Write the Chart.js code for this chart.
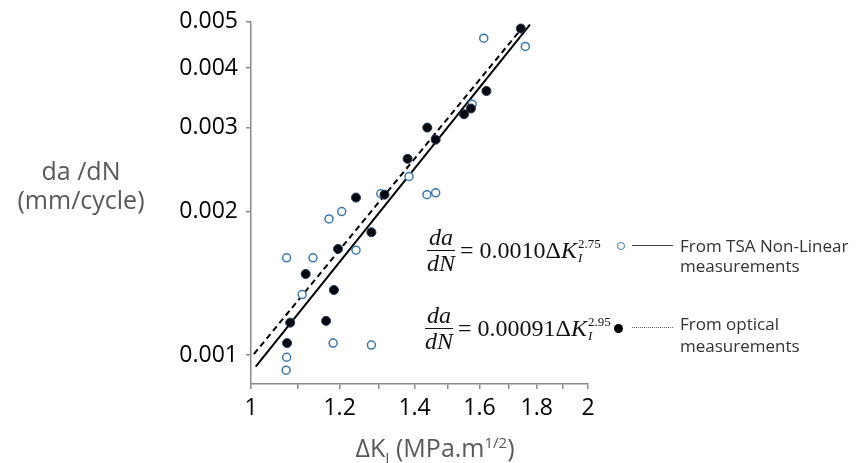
<!DOCTYPE html>
<html lang="en">
<head>
    <meta charset="UTF-8">
    <title>da/dN vs delta K</title>
    <script src="https://cdn.jsdelivr.net/npm/chart.js"></script>
    <style>
        body { margin: 0; background: #fff; }
        #wrap { position: relative; width: 860px; height: 463px; }
        #myChart { position: absolute; left: 0; top: 0; }
        .lbl { position: absolute; font-family: 'Open Sans', sans-serif; color: #595959; white-space: nowrap; }
        .eq { position: absolute; font-family: 'Liberation Serif', 'DejaVu Serif', serif; font-size: 24px; color: #111;
              display: flex; align-items: center; white-space: nowrap; }
        .frac { display: inline-flex; flex-direction: column; align-items: center; font-style: italic; margin-right: 5px; }
        .frac .num { border-bottom: 1.3px solid #111; padding: 0 2px; line-height: 1.05; }
        .frac .den { line-height: 1.05; }
        .ss { display: inline-flex; flex-direction: column; font-size: 13px; line-height: 1.05; margin-left: 1px; }
        .ss .sb { font-style: italic; }
        .leg { position: absolute; font-family: 'Open Sans', sans-serif; font-size: 17px; color: #333; line-height: 20px; white-space: nowrap; }
        .mk { position: absolute; box-sizing: border-box; border-radius: 50%; }
    </style>
</head>
<body>
<div id="wrap">
    <canvas id="myChart" width="860" height="463"></canvas>

    <div class="lbl" style="left:1px;top:156px;width:160px;text-align:center;font-size:25px;line-height:29px;">da /dN<br>(mm/cycle)</div>
    <div class="lbl" style="left:305px;top:430px;width:260px;text-align:center;font-size:25px;">&Delta;K<sub style="font-size:15px">I</sub> (MPa.m<sup style="font-size:15px">1/2</sup>)</div>

    <div class="eq" style="left:427px;top:225px;">
        <span class="frac"><span class="num">da</span><span class="den">dN</span></span>
        <span>= 0.0010&Delta;<i>K</i></span><span class="ss"><span>2.75</span><span class="sb">I</span></span>
    </div>
    <div class="eq" style="left:425px;top:303px;">
        <span class="frac"><span class="num">da</span><span class="den">dN</span></span>
        <span>= 0.00091&Delta;<i>K</i></span><span class="ss"><span>2.95</span><span class="sb">I</span></span>
    </div>

    <span class="mk" style="left:617px;top:242px;width:8px;height:8px;border:1.5px solid #3a78b0;"></span>
    <span style="position:absolute;left:632px;top:245px;width:41px;border-top:1.3px solid #444;"></span>
    <div class="leg" style="left:680px;top:236px;">From TSA Non-Linear<br>measurements</div>

    <span class="mk" style="left:614px;top:324px;width:9px;height:9px;background:#000;"></span>
    <span style="position:absolute;left:632px;top:327px;width:41px;border-top:1px dotted #666;"></span>
    <div class="leg" style="left:680px;top:313px;line-height:22px;">From optical<br>measurements</div>
</div>

<script>
    // stress intensity range (MPa.m^1/2) and crack growth rate (mm/cycle)
    const tsaK = [1.614, 1.758, 1.576, 1.384, 1.306, 1.436, 1.462, 1.205, 1.174, 1.241, 1.076, 1.136, 1.111, 1.184, 1.281, 1.076, 1.075];
    const tsaRate = [0.00462, 0.00444, 0.00336, 0.00237, 0.00218, 0.00217, 0.00219, 0.00200, 0.00193, 0.00166, 0.00160, 0.00160, 0.00134, 0.00106, 0.00105, 0.00099, 0.00093];

    const optK = [1.742, 1.623, 1.550, 1.572, 1.437, 1.462, 1.380, 1.241, 1.316, 1.281, 1.196, 1.119, 1.186, 1.084, 1.167, 1.077];
    const optRate = [0.00484, 0.00358, 0.00320, 0.00329, 0.00300, 0.00283, 0.00258, 0.00214, 0.00217, 0.00181, 0.00167, 0.00148, 0.00137, 0.00117, 0.00118, 0.00106];

    // fitted power law lines (end points)
    const tsaFitK = [1.0097, 1.775];
    const tsaFitRate = [0.000946, 0.00493];
    const optFitK = [1.006, 1.746];
    const optFitRate = [0.001005, 0.00485];

    const xTicks = [1, 1.1, 1.2, 1.3, 1.4, 1.5, 1.6, 1.7, 1.8, 1.9, 2];
    const xLabels = ['1', '', '1.2', '', '1.4', '', '1.6', '', '1.8', '', '2'];
    const yTicks = [0.001, 0.002, 0.003, 0.004, 0.005];
    const yLabels = ['0.001', '0.002', '0.003', '0.004', '0.005'];

    function pts(xs, ys) {
        return xs.map((x, i) => ({x: x, y: ys[i]}));
    }

    const axisGrey = '#8a8a8a';

    const ctx = document.getElementById('myChart').getContext('2d');
    const myChart = new Chart(ctx, {
        type: 'scatter',
        data: {
            datasets: [{
                label: 'optical',
                data: pts(optK, optRate),
                pointRadius: 4.5,
                backgroundColor: '#05070f',
                borderColor: '#1d3354',
                borderWidth: 1
            }, {
                label: 'TSA',
                data: pts(tsaK, tsaRate),
                pointRadius: 4,
                backgroundColor: '#ffffff',
                borderColor: '#3a78b0',
                borderWidth: 1.5
            }, {
                label: 'TSA fit',
                data: pts(tsaFitK, tsaFitRate),
                showLine: true,
                pointRadius: 0,
                borderColor: '#000',
                borderWidth: 2
            }, {
                label: 'optical fit',
                data: pts(optFitK, optFitRate),
                showLine: true,
                pointRadius: 0,
                borderColor: '#000',
                borderWidth: 2,
                borderDash: [6, 4]
            }]
        },
        options: {
            responsive: false,
            animation: false,
            layout: {padding: {top: 16, right: 272, left: 0, bottom: 0}},
            plugins: {legend: {display: false}, tooltip: {enabled: false}},
            scales: {
                x: {
                    type: 'logarithmic',
                    min: 1,
                    max: 2,
                    afterBuildTicks: function (scale) {
                        scale.ticks = xTicks.map(v => ({value: v}));
                    },
                    afterFit: function (scale) {
                        scale.height = 79;
                    },
                    ticks: {
                        autoSkip: false,
                        maxRotation: 0,
                        padding: 6,
                        color: '#000',
                        font: {family: 'Open Sans', size: 23},
                        callback: function (value, index) {
                            return xLabels[index];
                        }
                    },
                    grid: {drawOnChartArea: false, drawTicks: true, tickLength: 5, color: axisGrey, lineWidth: 1.5},
                    border: {color: axisGrey, width: 1.5}
                },
                y: {
                    type: 'logarithmic',
                    min: 0.00087,
                    max: 0.005,
                    afterBuildTicks: function (scale) {
                        scale.ticks = yTicks.map(v => ({value: v}));
                    },
                    afterFit: function (scale) {
                        scale.width = 251;
                    },
                    ticks: {
                        autoSkip: false,
                        padding: 8,
                        color: '#000',
                        font: {family: 'Open Sans', size: 23},
                        callback: function (value, index) {
                            return yLabels[index];
                        }
                    },
                    grid: {drawOnChartArea: false, drawTicks: true, tickLength: 5, color: axisGrey, lineWidth: 1.5},
                    border: {color: axisGrey, width: 1.5}
                }
            }
        }
    });
</script>
</body>
</html>
